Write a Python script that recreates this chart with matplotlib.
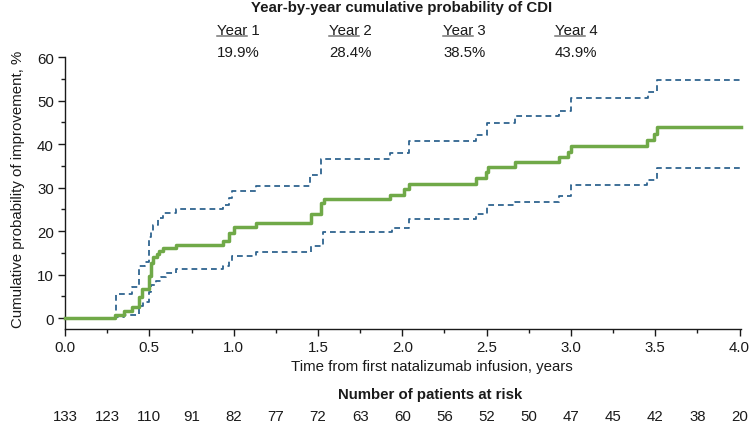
import matplotlib
matplotlib.use("Agg")
import matplotlib.pyplot as plt
from matplotlib.lines import Line2D
from matplotlib.ticker import MultipleLocator

plt.rcParams["font.family"] = ["Liberation Sans", "DejaVu Sans"]

# ---------------------------------------------------------------------------
# Data
# ---------------------------------------------------------------------------
cdi_time = [0, 0.296, 0.35, 0.40, 0.44, 0.455, 0.50, 0.51, 0.52, 0.545, 0.56,
            0.58, 0.66, 0.935, 0.975, 1.0, 1.135, 1.46, 1.515, 1.535, 1.93,
            2.01, 2.04, 2.44, 2.495, 2.51, 2.67, 2.93, 2.98, 3.0, 3.45, 3.49,
            3.51, 4.01]
cdi_prob = [0, 0.75, 1.6, 2.5, 4.8, 6.8, 9.7, 12.6, 14.0, 14.8, 15.5,
            16.2, 16.9, 17.8, 19.5, 20.9, 21.8, 23.9, 26.5, 27.3, 28.3,
            29.6, 30.8, 32.2, 33.5, 34.7, 35.8, 37.0, 38.2, 39.6, 40.9, 42.3,
            43.9, 43.9]

upper_time = [0, 0.30, 0.40, 0.44, 0.475, 0.50, 0.51, 0.52, 0.55, 0.58, 0.66,
              0.935, 0.97, 0.99, 1.135, 1.45, 1.52, 1.93, 2.04, 2.44, 2.50,
              2.67, 2.93, 3.0, 3.46, 3.51, 4.01]
upper_prob = [0, 5.5, 7.1, 12.0, 13.0, 18.6, 20.0, 21.5, 23.0, 24.1, 25.0,
              26.0, 27.6, 29.3, 30.4, 32.9, 36.6, 37.9, 40.7, 42.1, 44.8,
              46.4, 47.6, 50.6, 51.9, 54.8, 54.8]

lower_time = [0, 0.30, 0.35, 0.44, 0.46, 0.50, 0.51, 0.54, 0.57, 0.60, 0.66,
              0.935, 0.97, 0.99, 1.135, 1.46, 1.53, 1.94, 2.04, 2.44, 2.50,
              2.67, 2.93, 3.0, 3.45, 3.51, 4.01]
lower_prob = [0, 0.2, 0.7, 2.8, 3.6, 6.0, 7.6, 8.5, 9.4, 10.3, 11.2,
              12.0, 13.1, 14.3, 15.2, 16.6, 19.7, 20.6, 22.8, 23.9, 26.0,
              26.8, 28.0, 30.5, 31.8, 34.4, 34.4]

year_labels = ["1", "2", "3", "4"]
year_values = ["19.9%", "28.4%", "38.5%", "43.9%"]

risk_time = [0, 0.25, 0.5, 0.75, 1.0, 1.25, 1.5, 1.75, 2.0, 2.25, 2.5, 2.75,
             3.0, 3.25, 3.5, 3.75, 4.0]
at_risk = [133, 123, 110, 91, 82, 77, 72, 63, 60, 56, 52, 50, 47, 45, 42, 38, 20]

GREEN = "#70A948"
BLUE = "#2F6490"
TEXT = "#1a1a1a"
FS = 10.8


def main():
    fig = plt.figure(figsize=(7.51, 4.27), dpi=100)
    fig.patch.set_facecolor("white")
    ax = fig.add_axes([0.0866, 0.2272, 0.9004, 0.6368])

    ax.step(upper_time, upper_prob, where="post", color=BLUE, lw=1.3,
            dashes=(3.2, 2.2), zorder=2)
    ax.step(lower_time, lower_prob, where="post", color=BLUE, lw=1.3,
            dashes=(3.2, 2.2), zorder=2)
    ax.step(cdi_time, cdi_prob, where="post", color=GREEN, lw=2.5,
            zorder=3, clip_on=False)

    ax.set_xlim(0, 4.01)
    ax.set_ylim(-2.5, 60)
    ax.spines["top"].set_visible(False)
    ax.spines["right"].set_visible(False)
    ax.spines["left"].set_bounds(-2.5, 60)
    for s in ("left", "bottom"):
        ax.spines[s].set_linewidth(1.0)
        ax.spines[s].set_color(TEXT)

    ax.xaxis.set_minor_locator(MultipleLocator(0.25))
    ax.yaxis.set_minor_locator(MultipleLocator(5))
    ax.set_xticks([0, 0.5, 1.0, 1.5, 2.0, 2.5, 3.0, 3.5, 4.0])
    ax.set_xticklabels(["0.0", "0.5", "1.0", "1.5", "2.0", "2.5", "3.0",
                        "3.5", "4.0"])
    ax.set_yticks([0, 10, 20, 30, 40, 50, 60])
    ax.tick_params(which="major", length=5, width=1.0, color=TEXT,
                   labelsize=FS, labelcolor=TEXT, pad=3)
    ax.tick_params(which="minor", length=2.8, width=1.0, color=TEXT)

    # axis labels
    fig.text(0.024, 0.557, "Cumulative probability of improvement, %",
             rotation=90, ha="center", va="center", fontsize=FS, color=TEXT)
    fig.text(0.575, 0.1405, "Time from first natalizumab infusion, years",
             ha="center", va="center", fontsize=FS, color=TEXT)

    # year-by-year header
    fig.text(0.5346, 0.9824, "Year-by-year cumulative probability of CDI",
             ha="center", va="center", fontsize=FS, fontweight="bold",
             color=TEXT)
    year_x = [0.289, 0.438, 0.590, 0.739]
    ghosts = []
    for xf, lab, val in zip(year_x, year_labels, year_values):
        fig.text(xf, 0.9274, f"Year {lab}", ha="left", va="center",
                 fontsize=FS, color=TEXT)
        g = fig.text(xf, 0.9274, "Year", ha="left", va="center",
                     fontsize=FS, alpha=0)
        ghosts.append(g)
        fig.text(xf, 0.876, val, ha="left", va="center", fontsize=FS,
                 color=TEXT)

    # underline the "Year" part
    fig.canvas.draw()
    renderer = fig.canvas.get_renderer()
    inv = fig.transFigure.inverted()
    for g in ghosts:
        bb = g.get_window_extent(renderer)
        (x0, y0), (x1, _) = inv.transform([(bb.x0, bb.y0 + 1.5), (bb.x1, bb.y0)])
        fig.add_artist(Line2D([x0, x1], [y0, y0], transform=fig.transFigure,
                              color="#777777", lw=1.1))

    # number at risk
    fig.text(0.5726, 0.075, "Number of patients at risk", ha="center",
             va="center", fontsize=FS, fontweight="bold", color=TEXT)
    bl = matplotlib.transforms.blended_transform_factory(ax.transData,
                                                         fig.transFigure)
    for t, n in zip(risk_time, at_risk):
        fig.text(t, 0.0234, str(n), transform=bl, ha="center", va="center",
                 fontsize=FS, color=TEXT)

    fig.savefig("out.png", dpi=100, facecolor="white")
    plt.close(fig)


if __name__ == "__main__":
    main()
